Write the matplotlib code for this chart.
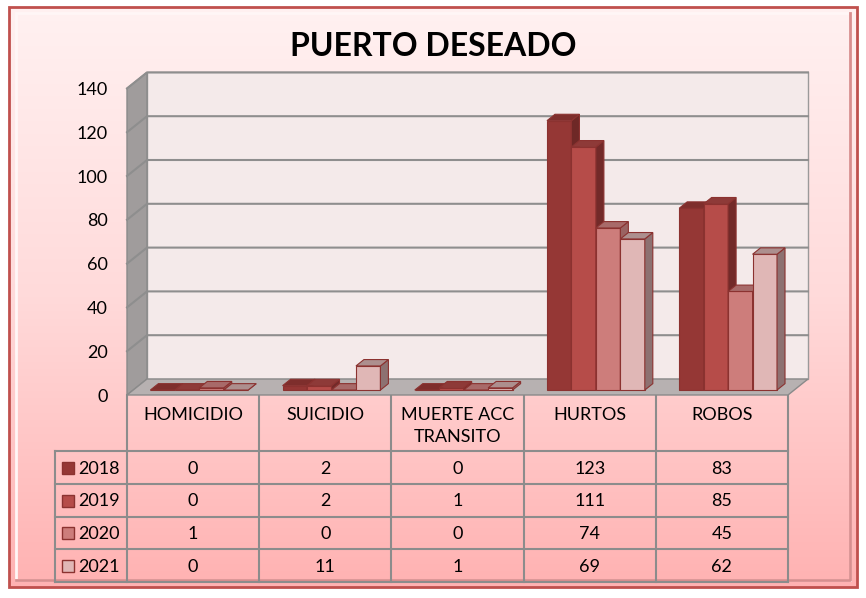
import numpy as np
import matplotlib
matplotlib.use("Agg")
import matplotlib.pyplot as plt
from matplotlib.patches import Polygon, Rectangle
from matplotlib.colors import LinearSegmentedColormap

plt.rcParams['font.family'] = ['Lato', 'DejaVu Sans']

# data
categories = ['HOMICIDIO', 'SUICIDIO', 'MUERTE ACC\nTRANSITO', 'HURTOS', 'ROBOS']
years = ['2018', '2019', '2020', '2021']
v2018 = [0, 2, 0, 123, 83]
v2019 = [0, 2, 1, 111, 85]
v2020 = [1, 0, 0, 74, 45]
v2021 = [0, 11, 1, 69, 62]
series = [v2018, v2019, v2020, v2021]
yticks = [0, 20, 40, 60, 80, 100, 120, 140]

front_col = ['#953735', '#B64C49', '#CD7D7B', '#E0B7B6']
side_col = ['#6E2826', '#722A29', '#9A6362', '#8D7171']
top_col = ['#7E2E2C', '#8E3A38', '#A86A69', '#AD8F8E']
edge_col = '#8B3230'
FS = 13

W, H = 866, 598
fig = plt.figure(figsize=(W / 100, H / 100), dpi=100)

# background layer in pixel units
fx = fig.add_axes([0, 0, 1, 1])
fx.set_xlim(0, W)
fx.set_ylim(H, 0)
fx.axis('off')
grad = LinearSegmentedColormap.from_list('g', ['#FFF1F1', '#FFDADA', '#FFB2B2'])
fx.imshow(np.linspace(0, 1, 256).reshape(-1, 1), cmap=grad, aspect='auto',
          extent=[9, 857, 587, 7], zorder=0)
fx.add_patch(Rectangle((9, 7), 848, 580, fill=False, ec='#C0504D', lw=2, zorder=2))
fx.add_patch(Rectangle((16, 13), 834, 567, fill=False, ec='#FFF6F6', lw=2, zorder=2))
fx.plot([850, 850, 16], [13, 580, 580], color='#D88E8E', lw=2, zorder=2)

fx.text(433, 47, 'PUERTO DESEADO', fontsize=23, fontweight='bold',
        ha='center', va='center', zorder=3)

# table
col_x = [127 + 132.2 * i for i in range(6)]
row_y = [451, 484, 517, 549, 582]
tcol = '#8C8C8C'
for x in col_x:
    fx.plot([x, x], [395, 582], color=tcol, lw=1.5, zorder=3)
fx.plot([55, 55], [451, 582], color=tcol, lw=1.5, zorder=3)
for y in row_y:
    fx.plot([55, col_x[-1]], [y, y], color=tcol, lw=1.5, zorder=3)
for i, c in enumerate(categories):
    fx.text((col_x[i] + col_x[i + 1]) / 2, 407, c, fontsize=FS, ha='center',
            va='top', linespacing=1.5, zorder=4)
for s, vals in enumerate(series):
    yc = (row_y[s] + row_y[s + 1]) / 2
    fx.add_patch(Rectangle((62, yc - 6), 12, 12, fc=front_col[s], ec=edge_col,
                           lw=1, zorder=4))
    fx.text(78, yc + 1, years[s], fontsize=FS, ha='left', va='center', zorder=4)
    for i, v in enumerate(vals):
        fx.text((col_x[i] + col_x[i + 1]) / 2, yc + 1, str(v), fontsize=FS,
                ha='center', va='center', zorder=4)

# 3d plot region (front plane)
SY = 2.19
ax = fig.add_axes([127 / W, (H - 395) / H, 661 / W, 140 * SY / H])
ax.set_xlim(0, 5)
ax.set_ylim(0, 140)
ax.patch.set_alpha(0)
for sp in ax.spines.values():
    sp.set_visible(False)
ax.set_xticks([])
ax.set_yticks(yticks)
ax.tick_params(axis='y', length=0, pad=14, labelsize=FS)

DX = 20 / 132.2
DY = 16 / SY


def poly(pts, fc, ec, z, lw=0.8):
    ax.add_patch(Polygon(pts, closed=True, fc=fc, ec=ec, lw=lw, zorder=z,
                         clip_on=False))


top_v = yticks[-1]
poly([(DX, DY), (5 + DX, DY), (5 + DX, top_v + DY), (DX, top_v + DY)],
     '#F4EAEA', '#9A9A9A', 1, 1)
poly([(0, 0), (DX, DY), (DX, top_v + DY), (0, top_v)], '#A09C9C', '#8A8A8A', 1, 1)
poly([(0, 0), (5, 0), (5 + DX, DY), (DX, DY)], '#B7B1B1', '#8A8A8A', 1, 1)
for v in yticks[1:]:
    ax.plot([0, DX, 5 + DX], [v, v + DY, v + DY], color='#8E8E8E', lw=1.5,
            zorder=2, clip_on=False)

# bars
f0, f1 = 0.31, 0.71
a, b = f0 * DX, f0 * DY
d, e = (f1 - f0) * DX, (f1 - f0) * DY
bw = 0.185
z = 3
for c in range(len(categories)):
    for s, vals in enumerate(series):
        v = vals[c]
        xl = c + 0.5 - 2 * bw + s * bw + a
        xr = xl + bw
        ax.bar(xl, v, width=bw, bottom=b, align='edge', color=front_col[s],
               edgecolor=edge_col, lw=0.8, zorder=z, clip_on=False)
        poly([(xr, b), (xr + d, b + e), (xr + d, b + e + v), (xr, b + v)],
             side_col[s], edge_col, z)
        poly([(xl, b + v), (xr, b + v), (xr + d, b + v + e), (xl + d, b + v + e)],
             top_col[s], edge_col, z)
        z += 1

fig.savefig('out.png', dpi=100)
